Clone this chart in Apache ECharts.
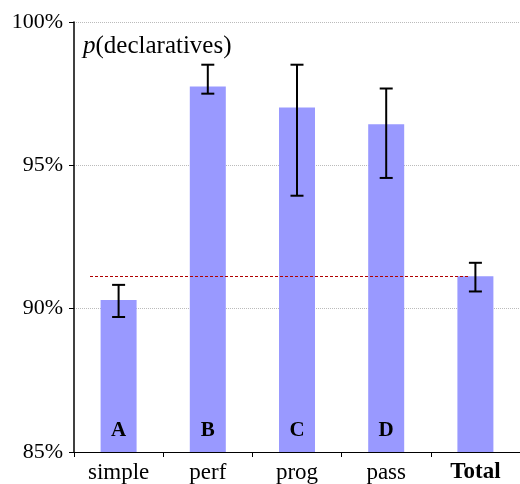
<!DOCTYPE html>
<html>
<head>
<meta charset="utf-8">
<script src="https://cdn.jsdelivr.net/npm/echarts@6/dist/echarts.min.js"></script>
<style>
  html, body { margin: 0; padding: 0; background: #fff; }
  #chart { width: 520px; height: 484px; }
</style>
</head>
<body>
<div id="chart"></div>
<script>
// Share of declaratives per condition, with confidence intervals
const categories = ['simple', 'perf', 'prog', 'pass', 'Total'];
const barLetters = ['A', 'B', 'C', 'D', ''];
const values = [90.30, 97.75, 97.02, 96.43, 91.13];
const errLow = [89.71, 97.50, 93.94, 94.56, 90.60];
const errHigh = [90.83, 98.51, 98.51, 97.68, 91.60];
const overallMean = 91.13;
const yTicks = [85, 90, 95, 100];

const serif = '"Liberation Serif", "DejaVu Serif", serif';

const errorData = categories.map((c, i) => [i, errLow[i], errHigh[i]]);

const chart = echarts.init(document.getElementById('chart'));
chart.setOption({
  animation: false,
  backgroundColor: '#fff',
  title: {
    text: '{i|p}(declaratives)',
    left: 78,
    top: 29,
    textStyle: {
      fontFamily: serif, fontSize: 25, fontWeight: 'normal', color: '#000',
      rich: { i: { fontFamily: serif, fontSize: 25, fontStyle: 'italic', color: '#000' } }
    }
  },
  grid: { left: 74, top: 22, width: 450, height: 433 },
  xAxis: {
    type: 'category',
    data: categories,
    axisLine: { lineStyle: { color: '#000', width: 1 } },
    axisTick: { show: true, interval: 0, length: 5, lineStyle: { color: '#000' } },
    axisLabel: {
      interval: 0,
      fontFamily: serif, fontSize: 23, color: '#000', margin: 9,
      formatter: v => v === 'Total' ? '{b|' + v + '}' : v,
      rich: { b: { fontFamily: serif, fontSize: 23, fontWeight: 'bold', color: '#000' } }
    }
  },
  yAxis: {
    type: 'value',
    min: yTicks[0],
    max: yTicks[yTicks.length - 1],
    interval: 5,
    axisLine: { show: true, lineStyle: { color: '#000', width: 1.5 } },
    axisTick: { show: true, length: 5, lineStyle: { color: '#000' } },
    axisLabel: {
      fontFamily: serif, fontSize: 22, color: '#000', margin: 11,
      formatter: '{value}%'
    },
    splitLine: { show: true, lineStyle: { color: '#bbb', type: [1, 1], width: 1 } }
  },
  series: [
    {
      type: 'bar',
      data: values,
      barWidth: 36,
      itemStyle: { color: '#9999ff' },
      label: {
        show: true,
        position: 'insideBottom',
        distance: 11,
        formatter: p => barLetters[p.dataIndex],
        fontFamily: serif, fontSize: 21, fontWeight: 'bold', color: '#000'
      },
      markLine: {
        silent: true,
        symbol: 'none',
        label: { show: false },
        emphasis: { disabled: true },
        lineStyle: { color: '#b00000', type: [3, 2], width: 1.2, opacity: 1 },
        data: [[
          { coord: [0, overallMean], x: 90 },
          { coord: [4, overallMean], x: 470 }
        ]]
      },
      z: 2
    },
    {
      type: 'custom',
      data: errorData,
      encode: { x: 0, y: [1, 2] },
      z: 5,
      renderItem: (params, api) => {
        const x = api.value(0);
        const lo = api.coord([x, api.value(1)]);
        const hi = api.coord([x, api.value(2)]);
        const half = 6.5;
        const style = { stroke: '#000', lineWidth: 2 };
        return {
          type: 'group',
          children: [
            { type: 'line', shape: { x1: hi[0], y1: hi[1], x2: lo[0], y2: lo[1] }, style },
            { type: 'line', shape: { x1: hi[0] - half, y1: hi[1], x2: hi[0] + half, y2: hi[1] }, style },
            { type: 'line', shape: { x1: lo[0] - half, y1: lo[1], x2: lo[0] + half, y2: lo[1] }, style }
          ]
        };
      }
    }
  ]
});
</script>
</body>
</html>
